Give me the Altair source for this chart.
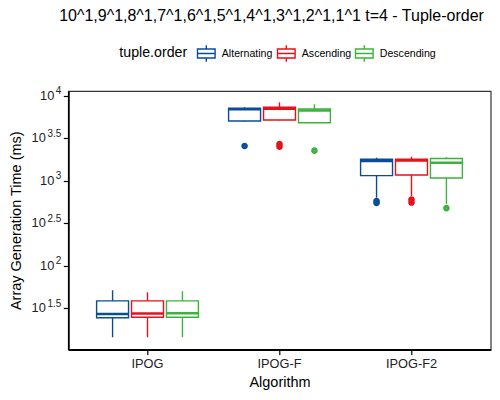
import altair as alt
import pandas as pd

# ---------------- data ----------------
algorithms = ["IPOG", "IPOG-F", "IPOG-F2"]
orders = ["Alternating", "Ascending", "Descending"]
colors = ["#0B4C95", "#E8101A", "#3DB23D"]

# one list per algorithm, entries ordered as `orders` (values in ms)
lower_whisker = {"IPOG": [14.4, 14.4, 14.4], "IPOG-F": [4955, 5129, 4764], "IPOG-F2": [631, 661, 533]}
q1_vals = {"IPOG": [24.4, 24.7, 24.7], "IPOG-F": [5035, 5176, 4808], "IPOG-F2": [1146, 1167, 1076]}
median_vals = {"IPOG": [27.0, 27.3, 27.5], "IPOG-F": [6918, 6998, 6683], "IPOG-F2": [1706, 1722, 1629]}
q3_vals = {"IPOG": [38.5, 38.5, 38.5], "IPOG-F": [7112, 7311, 6982], "IPOG-F2": [1786, 1786, 1820]}
upper_whisker = {"IPOG": [51.4, 48.6, 50.0], "IPOG-F": [7311, 8356, 7925], "IPOG-F2": [1866, 1919, 1888]}

outlier_alg = ["IPOG-F", "IPOG-F", "IPOG-F", "IPOG-F",
               "IPOG-F2", "IPOG-F2", "IPOG-F2", "IPOG-F2", "IPOG-F2"]
outlier_order = ["Alternating", "Ascending", "Ascending", "Descending",
                 "Alternating", "Alternating", "Ascending", "Ascending", "Descending"]
outlier_ms = [2559, 2692, 2512, 2254, 577, 547, 601, 553, 476]

ytick_ms = [31.62, 100, 316.2, 1000, 3162, 10000]
ytick_exp = ["1.5", "2", "2.5", "3", "3.5", "4"]
y_domain = [10.33, 11350]

title_text = "10^1,9^1,8^1,7^1,6^1,5^1,4^1,3^1,2^1,1^1 t=4 - Tuple-order"

# ---------------- tables ----------------
rows = []
for a in algorithms:
    for i, o in enumerate(orders):
        rows.append({"algorithm": a, "order": o,
                     "lo": lower_whisker[a][i], "q1": q1_vals[a][i],
                     "med": median_vals[a][i], "q3": q3_vals[a][i],
                     "hi": upper_whisker[a][i]})
stats = pd.DataFrame(rows)
outliers = pd.DataFrame({"algorithm": outlier_alg, "order": outlier_order, "ms": outlier_ms})
ticks = pd.DataFrame({"v": ytick_ms, "exp": ytick_exp})
ticks["base"] = "10"
ticks["half"] = ticks["exp"].str.contains(".", regex=False)

FONT = "Liberation Sans"

yscale = alt.Scale(type="log", domain=y_domain, nice=False, zero=False)
yaxis = alt.Axis(values=ytick_ms, labels=False, tickSize=5, titlePadding=39.5,
                 title="Array Generation Time (ms)")


def yenc(field):
    return alt.Y(field, type="quantitative", scale=yscale, axis=yaxis,
                 title="Array Generation Time (ms)")


xenc = alt.X("algorithm:N", sort=algorithms,
             scale=alt.Scale(paddingInner=0.2287, paddingOuter=0.2144),
             axis=alt.Axis(labelAngle=0, tickSize=5, labelPadding=3, titlePadding=5),
             title="Algorithm")
xoff = alt.XOffset("order:N", sort=orders,
                   scale=alt.Scale(paddingInner=0.0857, paddingOuter=0))

box_symbol = "M-0.97,-0.5L0.97,-0.5L0.97,0.5L-0.97,0.5Z M0,-0.5L0,-0.9 M0,0.5L0,0.9 M-0.97,0L0.97,0"

cscale = alt.Scale(domain=orders, range=colors)
color_nolegend = alt.Color("order:N", sort=orders, scale=cscale, legend=None)
color_legend = alt.Color(
    "order:N", sort=orders, scale=cscale,
    legend=alt.Legend(title="tuple.order", orient="none", direction="horizontal",
                      legendX=51, legendY=-47.5,
                      titleOrient="left", symbolType=box_symbol, symbolSize=330,
                      symbolStrokeWidth=1.4, symbolFillColor="transparent",
                      labelFontSize=10.6, titleFontSize=14.2,
                      titleFontWeight="normal", labelOffset=5.5, columnPadding=1,
                      titlePadding=9, titleBaseline="middle"))

base = alt.Chart(stats)

# every layer is stroked only, so the shared legend shows hollow box glyphs
whisk_low = base.mark_rule(strokeWidth=1.4).encode(
    x=xenc, xOffset=xoff, y=yenc("lo"), y2=alt.Y2("q1"), color=color_legend)

boxes = base.mark_bar(filled=False, strokeWidth=1.4).encode(
    x=xenc, xOffset=xoff, y=yenc("q1"), y2=alt.Y2("q3"), color=color_nolegend)

whisk_high = base.mark_rule(strokeWidth=1.4).encode(
    x=xenc, xOffset=xoff, y=yenc("q3"), y2=alt.Y2("hi"), color=color_nolegend)

medians = base.mark_bar(filled=False, strokeWidth=2.5).encode(
    x=xenc, xOffset=xoff, y=yenc("med"), y2=alt.Y2("med"), color=color_nolegend)

points = alt.Chart(outliers).mark_point(filled=False, shape="circle", size=13,
                                        strokeWidth=3, opacity=1).encode(
    x=xenc, xOffset=xoff, y=yenc("ms"), color=color_nolegend)

tick_base = alt.Chart(ticks)
exp_text = tick_base.mark_text(align="right", baseline="middle", fontSize=10, dy=-4.5,
                               font=FONT, color="#222").encode(
    x=alt.value(-7), y=yenc("v"), text="exp:N")
ten_int = tick_base.transform_filter("!datum.half").mark_text(
    align="right", baseline="middle", fontSize=12.8, font=FONT, color="#222").encode(
    x=alt.value(-14), y=yenc("v"), text="base:N")
ten_half = tick_base.transform_filter("datum.half").mark_text(
    align="right", baseline="middle", fontSize=12.8, font=FONT, color="#222").encode(
    x=alt.value(-22.5), y=yenc("v"), text="base:N")

chart = alt.layer(whisk_low, boxes, whisk_high, medians, points,
                  exp_text, ten_int, ten_half).properties(
    width=422.4, height=258.5,
    autosize=alt.AutoSizeParams(type="none"),
    padding={"left": 60.3, "top": 83, "right": 1.3, "bottom": 42.2},
    title=alt.TitleParams(title_text, fontSize=16.0, fontWeight="normal", font=FONT,
                          anchor="middle", frame="group", offset=19, dx=-8, color="#000"),
).configure_view(
    stroke="#333", strokeWidth=1.2
).configure_axis(
    grid=False, domainColor="#000", domainWidth=1.8, tickColor="#000", tickWidth=1.2,
    labelColor="#222", labelFont=FONT, labelFontSize=12.8,
    titleFont=FONT, titleFontSize=14.5, titleFontWeight="normal", titleColor="#000"
).configure_legend(
    labelFont=FONT, titleFont=FONT, labelColor="#000", titleColor="#000"
)

chart.save("out.html", embed_options={"renderer": "svg", "actions": False})
